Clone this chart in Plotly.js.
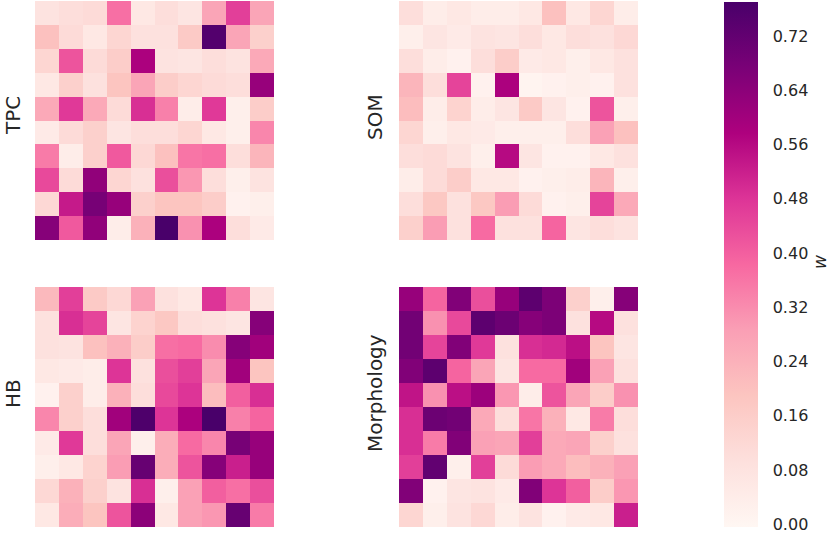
<!DOCTYPE html>
<html>
<head>
<meta charset="utf-8">
<script src="https://cdn.plot.ly/plotly-3.0.1.min.js"></script>
<style>html,body{margin:0;padding:0;background:#fff;}#chart{width:830px;height:533px;}</style>
</head>
<body>
<div id="chart"></div>
<script>
// Panel names
const panelNames = ["TPC", "SOM", "HB", "Morphology"];

// Weight matrices (rows top to bottom, 10x10)
const tpc = [
  [0.08, 0.10, 0.11, 0.37, 0.06, 0.10, 0.07, 0.27, 0.46, 0.27],
  [0.20, 0.11, 0.06, 0.13, 0.09, 0.09, 0.17, 0.75, 0.27, 0.15],
  [0.13, 0.42, 0.11, 0.16, 0.58, 0.08, 0.07, 0.10, 0.08, 0.26],
  [0.06, 0.15, 0.09, 0.19, 0.27, 0.16, 0.13, 0.11, 0.10, 0.62],
  [0.26, 0.47, 0.26, 0.11, 0.49, 0.34, 0.04, 0.47, 0.03, 0.16],
  [0.05, 0.11, 0.15, 0.07, 0.10, 0.10, 0.13, 0.06, 0.03, 0.33],
  [0.35, 0.04, 0.15, 0.41, 0.12, 0.20, 0.36, 0.37, 0.10, 0.23],
  [0.44, 0.11, 0.63, 0.13, 0.09, 0.43, 0.30, 0.10, 0.03, 0.08],
  [0.12, 0.53, 0.68, 0.62, 0.15, 0.19, 0.19, 0.16, 0.02, 0.03],
  [0.65, 0.41, 0.63, 0.04, 0.24, 0.77, 0.31, 0.58, 0.10, 0.05]
];
const som = [
  [0.10, 0.04, 0.06, 0.04, 0.04, 0.06, 0.20, 0.06, 0.13, 0.04],
  [0.03, 0.07, 0.05, 0.08, 0.07, 0.10, 0.06, 0.10, 0.09, 0.12],
  [0.10, 0.04, 0.02, 0.10, 0.16, 0.05, 0.06, 0.03, 0.06, 0.09],
  [0.23, 0.10, 0.45, 0.02, 0.58, 0.01, 0.02, 0.03, 0.02, 0.09],
  [0.21, 0.04, 0.14, 0.04, 0.07, 0.17, 0.07, 0.02, 0.42, 0.03],
  [0.13, 0.03, 0.06, 0.05, 0.03, 0.03, 0.03, 0.10, 0.28, 0.20],
  [0.10, 0.11, 0.08, 0.03, 0.56, 0.07, 0.02, 0.02, 0.06, 0.09],
  [0.04, 0.11, 0.16, 0.06, 0.06, 0.02, 0.03, 0.04, 0.23, 0.03],
  [0.10, 0.18, 0.09, 0.18, 0.29, 0.11, 0.02, 0.03, 0.45, 0.26],
  [0.15, 0.29, 0.09, 0.38, 0.09, 0.09, 0.39, 0.07, 0.10, 0.08]
];
const hb = [
  [0.22, 0.46, 0.17, 0.12, 0.28, 0.09, 0.06, 0.48, 0.34, 0.07],
  [0.09, 0.49, 0.45, 0.07, 0.14, 0.18, 0.10, 0.09, 0.07, 0.65],
  [0.09, 0.08, 0.20, 0.24, 0.16, 0.37, 0.38, 0.32, 0.65, 0.60],
  [0.06, 0.05, 0.04, 0.48, 0.09, 0.43, 0.46, 0.27, 0.60, 0.19],
  [0.02, 0.15, 0.04, 0.24, 0.10, 0.44, 0.48, 0.21, 0.40, 0.49],
  [0.33, 0.15, 0.10, 0.60, 0.76, 0.48, 0.58, 0.77, 0.34, 0.39],
  [0.05, 0.47, 0.10, 0.27, 0.03, 0.25, 0.38, 0.33, 0.68, 0.62],
  [0.03, 0.06, 0.14, 0.29, 0.71, 0.25, 0.42, 0.65, 0.52, 0.62],
  [0.12, 0.24, 0.15, 0.08, 0.49, 0.03, 0.28, 0.40, 0.37, 0.43],
  [0.06, 0.25, 0.19, 0.42, 0.64, 0.06, 0.28, 0.30, 0.71, 0.35]
];
const morphology = [
  [0.62, 0.39, 0.66, 0.43, 0.62, 0.73, 0.67, 0.15, 0.03, 0.65],
  [0.69, 0.31, 0.44, 0.73, 0.70, 0.65, 0.67, 0.09, 0.56, 0.09],
  [0.69, 0.45, 0.66, 0.47, 0.09, 0.49, 0.50, 0.55, 0.19, 0.07],
  [0.66, 0.73, 0.39, 0.27, 0.07, 0.38, 0.38, 0.60, 0.28, 0.09],
  [0.54, 0.31, 0.55, 0.61, 0.30, 0.04, 0.42, 0.27, 0.16, 0.31],
  [0.49, 0.70, 0.69, 0.26, 0.10, 0.36, 0.24, 0.06, 0.35, 0.10],
  [0.49, 0.35, 0.66, 0.28, 0.27, 0.46, 0.26, 0.27, 0.15, 0.09],
  [0.46, 0.72, 0.03, 0.46, 0.11, 0.29, 0.26, 0.21, 0.24, 0.28],
  [0.66, 0.02, 0.07, 0.08, 0.05, 0.66, 0.48, 0.40, 0.16, 0.30],
  [0.13, 0.03, 0.08, 0.12, 0.04, 0.08, 0.02, 0.05, 0.06, 0.52]
];

const colorbarTicks = [0.00, 0.08, 0.16, 0.24, 0.32, 0.40, 0.48, 0.56, 0.64, 0.72];
const zMin = -0.004, zMax = 0.77;

const rdpu = [
  [0.0, "#fff7f3"], [0.125, "#fde0dd"], [0.25, "#fcc5c0"], [0.375, "#fa9fb5"],
  [0.5, "#f768a1"], [0.625, "#dd3497"], [0.75, "#ae017e"], [0.875, "#7a0177"], [1.0, "#49006a"]
];

const W = 830, H = 533;
const matrices = [tpc, som, hb, morphology];
const axIds = ["", "2", "3", "4"];
const xDomains = [[35/W, 274/W], [399/W, 638/W], [35/W, 274/W], [399/W, 638/W]];
const yDomains = [[(H-240)/H, (H-1)/H], [(H-240)/H, (H-1)/H], [(H-527)/H, (H-287)/H], [(H-527)/H, (H-287)/H]];
const labelX = [13, 375, 13, 375];
const labelY = [116, 117, 394, 393];

const traces = matrices.map((m, i) => ({
  type: "heatmap",
  z: m,
  xaxis: "x" + axIds[i],
  yaxis: "y" + axIds[i],
  colorscale: rdpu,
  zmin: zMin, zmax: zMax,
  showscale: i === 0,
  hoverinfo: "z",
  colorbar: i === 0 ? {
    x: 724/W, xanchor: "left", xpad: 0,
    y: (H - 264.5)/H, yanchor: "middle", ypad: 0,
    len: 525, lenmode: "pixels",
    thickness: 34, thicknessmode: "pixels",
    outlinewidth: 0,
    tickmode: "array",
    tickvals: colorbarTicks,
    ticktext: colorbarTicks.map(v => v.toFixed(2)),
    ticks: "outside", ticklen: 12, tickcolor: "rgba(0,0,0,0)",
    ticklabeloverflow: "allow",
    tickfont: {family: "DejaVu Sans", size: 16, color: "#262626"}
  } : undefined
}));

const layout = {
  width: W, height: H,
  margin: {l: 0, r: 0, t: 0, b: 0},
  paper_bgcolor: "#ffffff",
  plot_bgcolor: "#ffffff",
  showlegend: false,
  annotations: []
};

matrices.forEach((m, i) => {
  layout["xaxis" + axIds[i]] = {
    domain: xDomains[i], showticklabels: false, showgrid: false, zeroline: false,
    ticks: "", showline: false, anchor: "y" + axIds[i], fixedrange: true
  };
  layout["yaxis" + axIds[i]] = {
    domain: yDomains[i], showticklabels: false, showgrid: false, zeroline: false,
    ticks: "", showline: false, autorange: "reversed", anchor: "x" + axIds[i], fixedrange: true
  };
  layout.annotations.push({
    text: panelNames[i], xref: "paper", yref: "paper",
    x: labelX[i]/W, y: (H - labelY[i])/H,
    xanchor: "center", yanchor: "middle", textangle: -90, showarrow: false,
    font: {family: "DejaVu Sans", size: 20, color: "#262626"}
  });
});

layout.annotations.push({
  text: "<i>w</i>", xref: "paper", yref: "paper",
  x: 820/W, y: (H - 262)/H, xanchor: "center", yanchor: "middle",
  textangle: -90, showarrow: false,
  font: {family: "DejaVu Sans", size: 17, color: "#262626"}
});

Plotly.newPlot("chart", traces, layout, {displayModeBar: false, staticPlot: true});
</script>
</body>
</html>
